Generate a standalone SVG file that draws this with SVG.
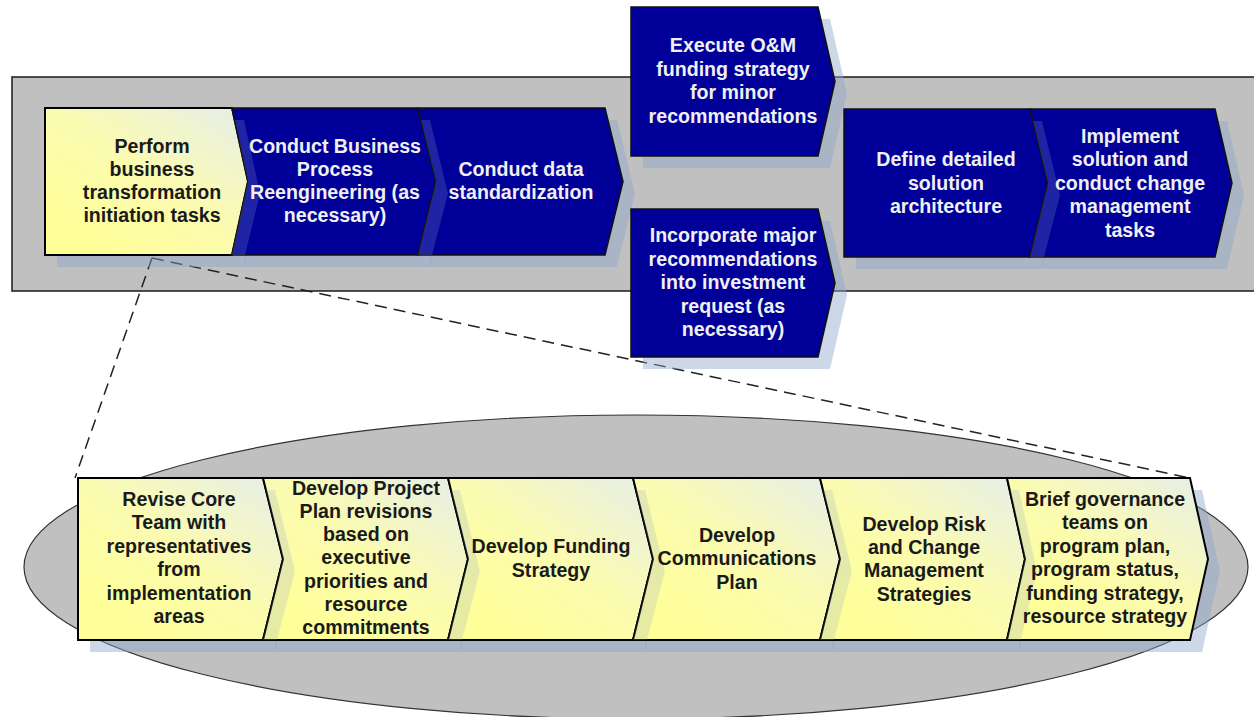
<svg xmlns="http://www.w3.org/2000/svg" width="1254" height="717" viewBox="0 0 1254 717">
<defs>
<linearGradient id="yel" x1="1" y1="0" x2="0.2" y2="0.9">
<stop offset="0" stop-color="#e6eeea"/>
<stop offset="0.55" stop-color="#fbfbb0"/>
<stop offset="1" stop-color="#ffff99"/>
</linearGradient>
<style>
.bg{fill:#c0c0c0;stroke:#1a1a1a;stroke-width:1.5}
.ell{fill:#c0c0c0;stroke:#333;stroke-width:1.2}
.sh{fill:#8fa6cc;opacity:0.45}
.strip{fill:#8fa6cc;opacity:0.22}
.blue{fill:#000099;stroke:#111;stroke-width:1.5}
.yel{fill:url(#yel);stroke:#000;stroke-width:2}
.dash{fill:none;stroke:#222;stroke-width:1.5;stroke-dasharray:12 7}
text{font-family:"Liberation Sans",Arial,sans-serif;font-weight:bold;font-size:19.6px;text-anchor:middle}
.wt{fill:#f0f0f0}
.bt{fill:#1a1a1a}
</style>
</defs>
<rect class="bg" x="12" y="77" width="1250" height="214"/>
<ellipse class="ell" cx="636" cy="567" rx="612" ry="152"/>
<g id="connectors">
<line class="dash" x1="152" y1="258" x2="75" y2="478"/>
<line class="dash" x1="152" y1="258" x2="1190" y2="478"/>
</g>
<g id="shadows">
<polygon class="sh" points="57,120 244,120 260,193.5 244,267 57,267"/>
<polygon class="sh" points="244,120 430,120 448,193.5 430,267 244,267"/>
<polygon class="sh" points="430,120 617,120 635,193.5 617,267 430,267"/>
<polygon class="sh" points="643,19 830,19 847,93.5 830,168 643,168"/>
<polygon class="sh" points="643,221 830,221 847,295 830,369 643,369"/>
<polygon class="sh" points="856,121 1042,121 1060,195 1042,269 856,269"/>
<polygon class="sh" points="1042,121 1227,121 1244,195 1227,269 1042,269"/>
<polygon class="sh" points="90,490 275,490 295,571 275,652 90,652"/>
<polygon class="sh" points="275,490 460,490 480,571 460,652 275,652"/>
<polygon class="sh" points="460,490 645,490 665,571 645,652 460,652"/>
<polygon class="sh" points="645,490 832,490 852,571 832,652 645,652"/>
<polygon class="sh" points="832,490 1019,490 1037,571 1019,652 832,652"/>
<polygon class="sh" points="1019,490 1202,490 1220,571 1202,652 1019,652"/>
</g>
<g id="n1">
<polygon class="yel" points="45,108 232,108 248,181.5 232,255 45,255"/>
<text class="bt" x="152" y="153">Perform</text>
<text class="bt" x="152" y="176">business</text>
<text class="bt" x="152" y="199">transformation</text>
<text class="bt" x="152" y="222">initiation tasks</text>
</g>
<g id="n2">
<polygon class="blue" points="232,108 418,108 436,181.5 418,255 232,255 248,181.5"/>
<polygon class="strip" points="235,120 244,120 260,193.5 245,255 232,255 248,181.5"/>
<text class="wt" x="335" y="153">Conduct Business</text>
<text class="wt" x="335" y="176">Process</text>
<text class="wt" x="335" y="199">Reengineering (as</text>
<text class="wt" x="335" y="222">necessary)</text>
</g>
<g id="n3">
<polygon class="blue" points="418,108 605,108 623,181.5 605,255 418,255 436,181.5"/>
<polygon class="strip" points="421,120 430,120 448,193.5 432,255 418,255 436,181.5"/>
<text class="wt" x="521" y="176">Conduct data</text>
<text class="wt" x="521" y="199">standardization</text>
</g>
<g id="n4">
<polygon class="blue" points="631,7 818,7 835,81.5 818,156 631,156"/>
<text class="wt" x="733" y="52">Execute O&amp;M</text>
<text class="wt" x="733" y="75.5">funding strategy</text>
<text class="wt" x="733" y="99">for minor</text>
<text class="wt" x="733" y="122.5">recommendations</text>
</g>
<g id="n5">
<polygon class="blue" points="631,209 818,209 835,283 818,357 631,357"/>
<text class="wt" x="733" y="242">Incorporate major</text>
<text class="wt" x="733" y="265.5">recommendations</text>
<text class="wt" x="733" y="289">into investment</text>
<text class="wt" x="733" y="312.5">request (as</text>
<text class="wt" x="733" y="336">necessary)</text>
</g>
<g id="n6">
<polygon class="blue" points="844,109 1030,109 1048,183 1030,257 844,257"/>
<text class="wt" x="946" y="166">Define detailed</text>
<text class="wt" x="946" y="189.5">solution</text>
<text class="wt" x="946" y="213">architecture</text>
</g>
<g id="n7">
<polygon class="blue" points="1030,109 1215,109 1232,183 1215,257 1030,257 1048,183"/>
<polygon class="strip" points="1033,121 1042,121 1060,195 1044,257 1030,257 1048,183"/>
<text class="wt" x="1130" y="142.5">Implement</text>
<text class="wt" x="1130" y="166">solution and</text>
<text class="wt" x="1130" y="189.5">conduct change</text>
<text class="wt" x="1130" y="213">management</text>
<text class="wt" x="1130" y="236.5">tasks</text>
</g>
<g id="b1">
<polygon class="yel" points="78,478 263,478 283,559 263,640 78,640"/>
<text class="bt" x="179" y="506">Revise Core</text>
<text class="bt" x="179" y="529.4">Team with</text>
<text class="bt" x="179" y="552.8">representatives</text>
<text class="bt" x="179" y="576.2">from</text>
<text class="bt" x="179" y="599.6">implementation</text>
<text class="bt" x="179" y="623">areas</text>
</g>
<g id="b2">
<polygon class="yel" points="263,478 448,478 468,559 448,640 263,640 283,559"/>
<polygon class="strip" points="266,490 275,490 295,571 277,640 263,640 283,559"/>
<text class="bt" x="366" y="494.5">Develop Project</text>
<text class="bt" x="366" y="517.8">Plan revisions</text>
<text class="bt" x="366" y="541.1">based on</text>
<text class="bt" x="366" y="564.4">executive</text>
<text class="bt" x="366" y="587.7">priorities and</text>
<text class="bt" x="366" y="611">resource</text>
<text class="bt" x="366" y="634.3">commitments</text>
</g>
<g id="b3">
<polygon class="yel" points="448,478 633,478 653,559 633,640 448,640 468,559"/>
<polygon class="strip" points="451,490 460,490 480,571 462,640 448,640 468,559"/>
<text class="bt" x="551" y="553">Develop Funding</text>
<text class="bt" x="551" y="576.5">Strategy</text>
</g>
<g id="b4">
<polygon class="yel" points="633,478 820,478 840,559 820,640 633,640 653,559"/>
<polygon class="strip" points="636,490 645,490 665,571 647,640 633,640 653,559"/>
<text class="bt" x="737" y="542">Develop</text>
<text class="bt" x="737" y="565.4">Communications</text>
<text class="bt" x="737" y="588.8">Plan</text>
</g>
<g id="b5">
<polygon class="yel" points="820,478 1007,478 1025,559 1007,640 820,640 840,559"/>
<polygon class="strip" points="823,490 832,490 852,571 834,640 820,640 840,559"/>
<text class="bt" x="924" y="530.5">Develop Risk</text>
<text class="bt" x="924" y="553.9">and Change</text>
<text class="bt" x="924" y="577.3">Management</text>
<text class="bt" x="924" y="600.7">Strategies</text>
</g>
<g id="b6">
<polygon class="yel" points="1007,478 1190,478 1208,559 1190,640 1007,640 1025,559"/>
<polygon class="strip" points="1010,490 1019,490 1037,571 1021,640 1007,640 1025,559"/>
<text class="bt" x="1105" y="506">Brief governance</text>
<text class="bt" x="1105" y="529.4">teams on</text>
<text class="bt" x="1105" y="552.8">program plan,</text>
<text class="bt" x="1105" y="576.2">program status,</text>
<text class="bt" x="1105" y="599.6">funding strategy,</text>
<text class="bt" x="1105" y="623">resource strategy</text>
</g>
</svg>
